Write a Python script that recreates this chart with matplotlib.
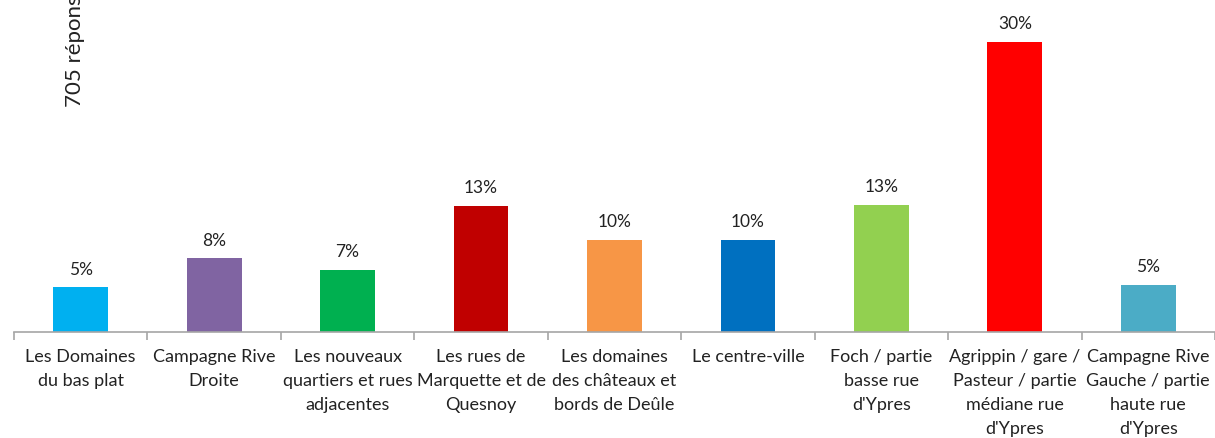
import matplotlib.pyplot as plt
import numpy as np

# Data
categories = [
    "Les Domaines\ndu bas plat",
    "Campagne Rive\nDroite",
    "Les nouveaux\nquartiers et rues\nadjacentes",
    "Les rues de\nMarquette et de\nQuesnoy",
    "Les domaines\ndes châteaux et\nbords de Deûle",
    "Le centre-ville",
    "Foch / partie\nbasse rue\nd'Ypres",
    "Agrippin / gare /\nPasteur / partie\nmédiane rue\nd'Ypres",
    "Campagne Rive\nGauche / partie\nhaute rue\nd'Ypres",
]
values = [4.6, 7.6, 6.4, 13.0, 9.5, 9.5, 13.1, 30.0, 4.9]
value_labels = ["5%", "8%", "7%", "13%", "10%", "10%", "13%", "30%", "5%"]
colors = ["#00B0F0", "#8064A2", "#00B050", "#C00000", "#F79646",
          "#0070C0", "#92D050", "#FF0000", "#4BACC6"]

plt.rcParams["font.family"] = ["Lato", "DejaVu Sans"]

fig = plt.figure(figsize=(12.15, 4.38), dpi=100)
ax = fig.add_axes([14 / 1215, 106 / 438, 1 - 14 / 1215, 332 / 438])

x = np.arange(len(categories))
ax.bar(x, values, width=0.41, color=colors)

for xi, v, lab in zip(x, values, value_labels):
    ax.annotate(lab, (xi, v), xytext=(0, 7), textcoords="offset points",
                ha="center", va="bottom", fontsize=12.5, color="#222222")

ax.set_xlim(-0.5, len(categories) - 0.5)
ax.set_ylim(0, 34.3)

ax.set_xticks(x)
ax.set_xticklabels(categories, fontsize=13, color="#222222", linespacing=1.6)
ax.tick_params(axis="x", which="major", length=0, pad=12.5)
ax.set_xticks(np.arange(len(categories) + 1) - 0.5, minor=True)
ax.tick_params(axis="x", which="minor", length=6, color="#A6A6A6", width=1.2)

ax.set_yticks([])
for side in ["top", "right", "left"]:
    ax.spines[side].set_visible(False)
ax.spines["bottom"].set_color("#A6A6A6")
ax.spines["bottom"].set_linewidth(1.2)

fig.text(75 / 1215, 1 - 107 / 438, "705 réponses", rotation=90,
         ha="center", va="bottom", fontsize=16, color="#222222")

fig.savefig("out.png", dpi=100)
